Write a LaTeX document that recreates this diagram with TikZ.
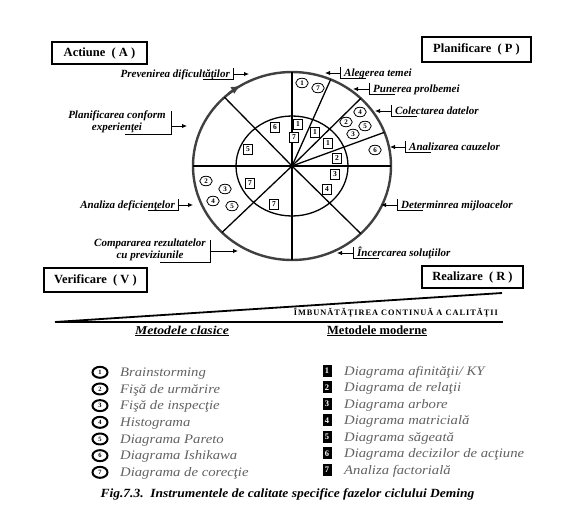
\documentclass[tikz,border=0pt]{standalone}
\usepackage{fontspec}
\setmainfont{Liberation Serif}
\usetikzlibrary{arrows.meta,shapes.geometric}
\definecolor{ringgray}{gray}{0.25}
\definecolor{lt}{gray}{0.38}
\newcommand\callR[5]{%
  \coordinate (#1b) at (#2,#3);
  \coordinate (#1t) at (#4,#3);
  \draw[brk] (#2,#3-6) -- (#2,#3+5) -- (#2+26,#3+5);
  \draw[arr] (#1b) -- (#1t);
  \node[lbl,anchor=base west] (#1) at (#2+4,#3+3) {#5};}
\newcommand\callL[5]{%
  \coordinate (#1b) at (#2,#3);
  \coordinate (#1t) at (#4,#3);
  \draw[brk] (#2,#3-6) -- (#2,#3+5) -- (#2-30,#3+5);
  \draw[arr] (#1b) -- (#1t);
  \node[lbl,anchor=base east] (#1) at (#2-3,#3+3) {#5};}
\begin{document}
\begin{tikzpicture}[x=1pt,y=-1pt,
  lbl/.style={font=\fontsize{11}{12.5}\selectfont\bfseries\itshape, inner sep=0pt},
  brk/.style={line width=0.9pt},
  arr/.style={line width=0.9pt,-{Latex[length=5pt,width=4.5pt]}},
  phase/.style={draw, line width=1.6pt, inner sep=0pt, font=\fontsize{12.5}{14}\selectfont\bfseries},
  cn/.style={ellipse, draw, line width=0.8pt, inner sep=0pt, minimum width=12.5pt, minimum height=9.5pt, font=\fontsize{7}{8}\selectfont\bfseries},
  bn/.style={draw, line width=0.8pt, inner sep=0pt, minimum width=8.5pt, minimum height=10pt, fill=white, font=\fontsize{7.5}{8}\selectfont\bfseries},
  lc/.style={ellipse, draw, line width=2pt, inner sep=0pt, minimum width=15pt, minimum height=11pt, font=\fontsize{6.5}{7}\selectfont\bfseries},
  lb/.style={fill=black, inner sep=0pt, minimum width=9pt, minimum height=12pt, text=white, font=\fontsize{8.5}{9}\selectfont\bfseries},
  item/.style={anchor=base west, inner sep=0pt, text=lt, font=\fontsize{13}{15}\selectfont\itshape\addfontfeature{FakeStretch=1.13}}
]
\useasboundingbox (0,0) rectangle (576,517);
\coordinate (C) at (292,166);
% rings
\draw[ringgray, line width=2.4pt] (C) ellipse [x radius=99pt, y radius=94pt];
\draw[line width=1.3pt] (C) ellipse [x radius=56pt, y radius=50pt];
% radial lines
\foreach \a in {0,21,46,67,90,133,180,225,270,314}
  \draw[line width=1.3pt] (C) -- ++(\a:99pt and 94pt);
\fill (C) circle (2pt);
% rotation arrow on the ring
\path (C) ++(130:99pt and 94pt) coordinate (rs);
\draw[ringgray, line width=2.4pt, -{Latex[length=10pt,width=8pt]}] (rs) arc[start angle=130, end angle=121, x radius=99pt, y radius=94pt];
% phase boxes
\node[phase, minimum width=95pt, minimum height=22pt] (A) at (99.5,53) {Actiune\ \ ( A )};
\node[phase, minimum width=109pt, minimum height=25pt] (P) at (476.5,49.5) {Planificare\ \ ( P )};
\node[phase, minimum width=103pt, minimum height=24pt] (V) at (95.5,280) {Verificare\ \ ( V )};
\node[phase, minimum width=101pt, minimum height=22pt] (R) at (472.5,277) {Realizare\ \ ( R )};
% callouts right
\callR{cA}{340}{73}{325}{Alegerea temei}
\callR{cB}{369}{89}{353}{Punerea prolbemei}
\callR{cC}{391}{111}{375}{Colectarea datelor}
\callR{cD}{405}{147}{390}{Analizarea cauzelor}
\callR{cE}{397}{205}{381}{Determinrea mijloacelor}
\callR{cF}{353}{253}{337}{Încercarea soluţiilor}
% callouts left
\callL{cG}{233}{74}{249}{Prevenirea dificultăţilor}
\callL{cH}{178}{205}{193}{Analiza deficienţelor}
% two-line callouts
\node[lbl, align=center] (cI) at (117,122) {Planificarea conform\\experienţei};
\coordinate (cIb) at (171,126);
\coordinate (cIt) at (187,126);
\draw[brk] (171,111) -- (171,134) -- (125,134);
\draw[arr] (cIb) -- (cIt);
\node[lbl, align=center] (cJ) at (150,250) {Compararea rezultatelor\\cu previziunile};
\coordinate (cJb) at (210,251);
\coordinate (cJt) at (238,251);
\draw[brk] (210,240) -- (210,262) -- (160,262);
\draw[arr] (cJb) -- (cJt);
% circled numbers (outer ring)
\node[cn] (o1) at (302,83) {1};
\node[cn] (o7) at (318,88) {7};
\node[cn] (o4) at (360,112) {4};
\node[cn] (o2) at (346,122) {2};
\node[cn] (o5) at (365,126) {5};
\node[cn] (o3) at (353,134) {3};
\node[cn] (o6) at (375,150) {6};
\node[cn] (p2) at (206,181) {2};
\node[cn] (p3) at (225,189) {3};
\node[cn] (p4) at (213,201) {4};
\node[cn] (p5) at (232,206) {5};
% boxed numbers (inner ring)
\node[bn] (i1) at (298,124) {1};
\node[bn] (i7) at (294,137) {7};
\node[bn] (i1b) at (315,132) {1};
\node[bn] (i1c) at (328,143) {1};
\node[bn] (i2) at (337,158) {2};
\node[bn] (i3) at (335,174) {3};
\node[bn] (i4) at (327,189) {4};
\node[bn] (i6) at (275,127) {6};
\node[bn] (i5) at (248,149) {5};
\node[bn] (i7b) at (250,183) {7};
\node[bn] (i7c) at (274,204) {7};
% improvement wedge
\coordinate (w0) at (55,322);
\coordinate (w1) at (502,293);
\coordinate (w2) at (503,322);
\draw[line width=1.8pt] (w0) -- (w1);
\draw[line width=1.1pt] (w0) -- (w2);
\node[anchor=base east, inner sep=0pt, font=\fontsize{8.3}{9}\selectfont\bfseries\addfontfeature{LetterSpace=12}] (imb) at (498,315) {ÎMBUNĂTĂŢIREA CONTINUĂ A CALITĂŢII};
% headings
\node[anchor=base, inner sep=0pt, font=\fontsize{12}{13}\selectfont\bfseries\itshape\addfontfeature{FakeStretch=1.15}] (hc) at (182,334) {\underline{Metodele clasice}};
\node[anchor=base, inner sep=0pt, font=\fontsize{12.5}{14}\selectfont\bfseries] (hm) at (377,334) {\underline{Metodele moderne}};
% classic list
\foreach \i/\t [count=\k from 0] in {1/Brainstorming, 2/Fişă de urmărire, 3/Fişă de inspecţie, 4/Histograma, 5/Diagrama Pareto, 6/Diagrama Ishikawa, 7/Diagrama de corecţie}{
  \node[lc] (lc\i) at (100,372.3+16.67*\k) {\i};
  \node[item] (lt\i) at (120,376.5+16.67*\k) {\t};
}
% modern list
\foreach \i/\t [count=\k from 0] in {1/{Diagrama afinităţii/ KY}, 2/Diagrama de relaţii, 3/Diagrama arbore, 4/Diagrama matricială, 5/Diagrama săgeată, 6/Diagrama decizilor de acţiune, 7/Analiza factorială}{
  \node[lb] (lb\i) at (327,370.7+16.55*\k) {\i};
  \node[item] (mt\i) at (344,375+16.55*\k) {\t};
}
% caption
\node[anchor=base, inner sep=0pt, font=\fontsize{12.5}{14}\selectfont\bfseries\itshape\addfontfeature{FakeStretch=1.08}] (cap) at (287.5,497) {Fig.7.3.\ \ Instrumentele de calitate specifice fazelor ciclului Deming};
\end{tikzpicture}
\end{document}
